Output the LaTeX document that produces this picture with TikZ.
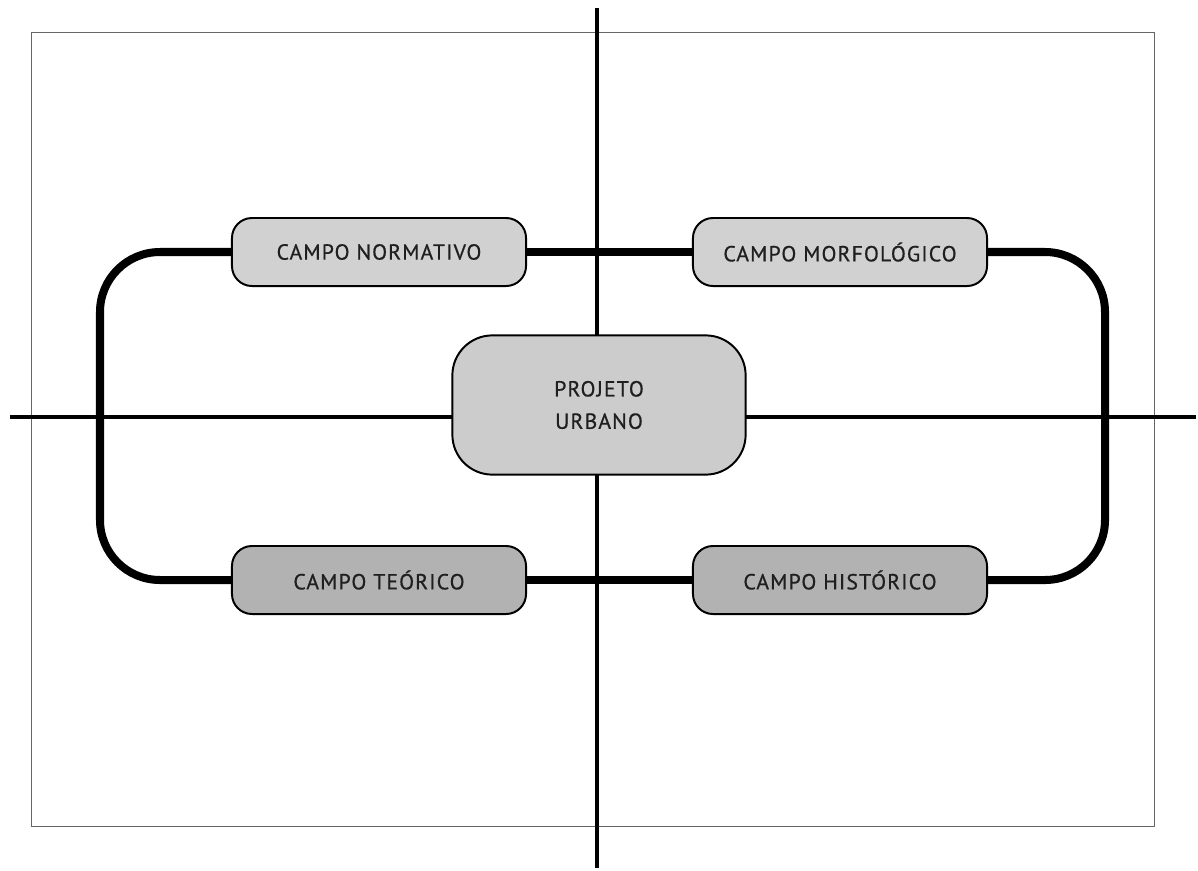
\documentclass[tikz,border=0pt]{standalone}
\usepackage{fontspec}
\setmainfont{PT Sans}[LetterSpace=5, FakeBold=0.6]
\begin{document}
\begin{tikzpicture}[x=0.025cm, y=-0.025cm,
    campo/.style={draw, line width=1.4pt, rounded corners=0.5cm, minimum width=7.35cm,
        minimum height=1.7cm, inner sep=0pt, text=black!88,
        font=\fontsize{15.5}{19}\selectfont},
    claro/.style={campo, fill=black!18},
    escuro/.style={campo, fill=black!30},
    eixo/.style={line width=2.8pt},
    laco/.style={line width=5.7pt, rounded corners=1.5cm}]
    \useasboundingbox (0,0) rectangle (1198,870);
    \draw[black!60, line width=0.5pt] (31,32) rectangle (1154,826);
    % eixos
    \coordinate (vt) at (597,8);
    \coordinate (vb) at (597,868);
    \coordinate (hl) at (10,417);
    \coordinate (hr) at (1196,417);
    \draw[eixo] (vt) -- (vb);
    \draw[eixo] (hl) -- (hr);
    % campos
    \node[claro] (norm) at (379,252) {CAMPO NORMATIVO};
    \node[claro] (morf) at (840,252) {CAMPO MORFOLÓGICO};
    \node[escuro] (teo) at (379,580) {CAMPO TEÓRICO};
    \node[escuro] (hist) at (840,580) {CAMPO HISTÓRICO};
    \coordinate (lt) at (100,252);
    \coordinate (lb) at (100,580);
    \coordinate (rt) at (1105,252);
    \coordinate (rb) at (1105,580);
    \draw[laco] (norm.west) -- (lt) -- (lb) -- (teo.west);
    \draw[laco] (morf.east) -- (rt) -- (rb) -- (hist.east);
    \draw[laco] (norm.east) -- (morf.west);
    \draw[laco] (teo.east) -- (hist.west);
    \node[campo, fill=black!20, rounded corners=1cm, minimum width=7.33cm,
        minimum height=3.48cm, align=center,
        font=\fontsize{15.5}{23}\selectfont] (proj) at (599,405) {PROJETO\\URBANO};
\end{tikzpicture}
\end{document}
